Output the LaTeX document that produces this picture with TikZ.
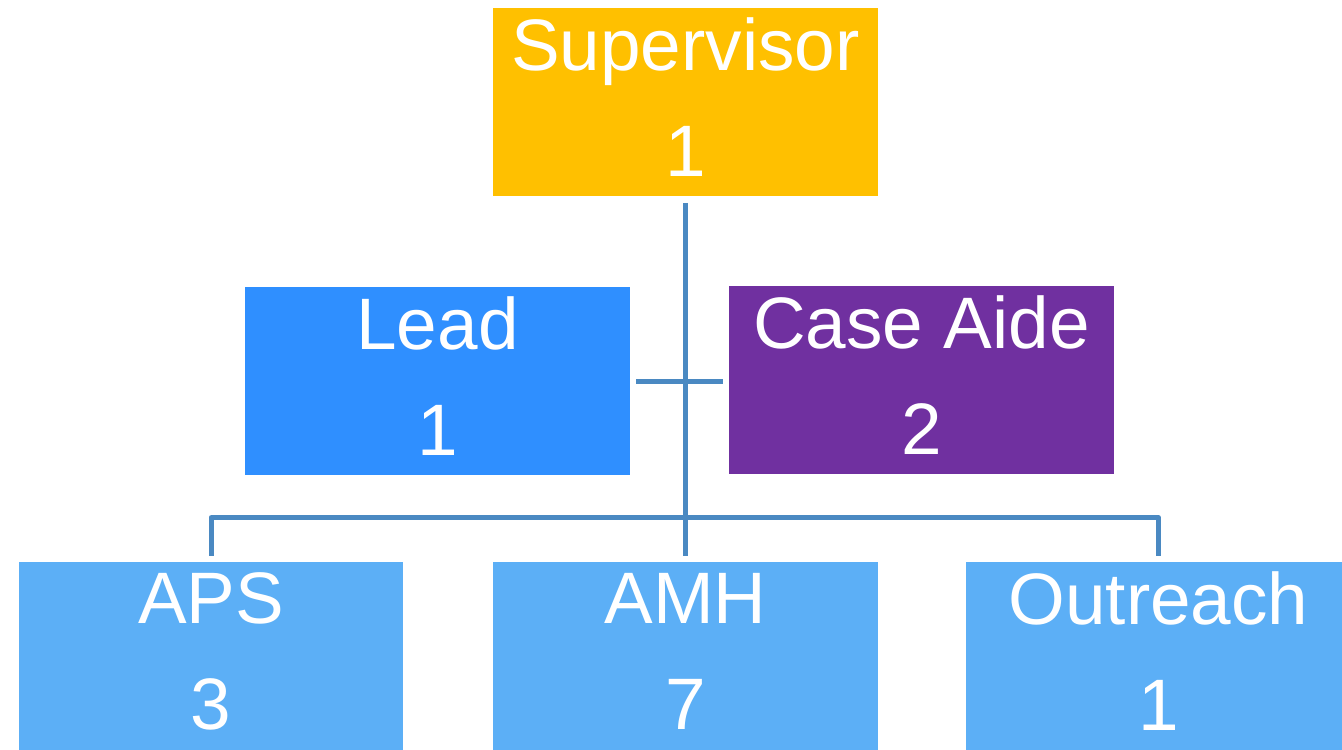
\documentclass[tikz,border=0pt]{standalone}
\usepackage{fontspec}
\setmainfont{Liberation Sans}
\usepackage{tikz}
\usetikzlibrary{positioning,calc}
\definecolor{supgold}{HTML}{FFC000}
\definecolor{leadblue}{HTML}{2F8FFF}
\definecolor{aidepurple}{HTML}{7030A0}
\definecolor{teamblue}{HTML}{5CAFF6}
\definecolor{linkblue}{HTML}{4A89C2}

\begin{document}
\begin{tikzpicture}[x=0.02cm,y=-0.02cm,
  box/.style={rectangle,inner sep=0pt,minimum width=7.7cm,minimum height=3.78cm,
    text=white,align=center,font=\fontsize{41.5}{60.3}\selectfont,
    execute at end node={\rule[-0.2cm]{0pt}{0pt}}},
  link/.style={draw=linkblue,line width=0.1cm,shorten <=0.12cm,shorten >=0.12cm}]
  \useasboundingbox (0,0) rectangle (1342,750);

  % Top
  \node[box,fill=supgold] (sup) at (685.5,102) {Supervisor\\1};

  % Middle row
  \node[box,fill=leadblue] (lead) at (437.5,381) {Lead\\1};
  \node[box,fill=aidepurple] (aide) at (921.5,380) {Case Aide\\2};

  % Teams
  \node[box,fill=teamblue] (aps) at (211,656.5) {APS\\3};
  \node[box,fill=teamblue] (amh) at (685.5,656.5) {AMH\\7};
  \node[box,fill=teamblue] (outreach) at (1158.5,656.5) {Outreach\\1};

  % Links
  \draw[link] (sup.south) -- (amh.north);
  \draw[link] (lead.east) -- (lead.east -| aide.west);
  \draw[link,line join=round] (aps.north) -- ++(0,-44) -| (outreach.north);
\end{tikzpicture}
\end{document}
